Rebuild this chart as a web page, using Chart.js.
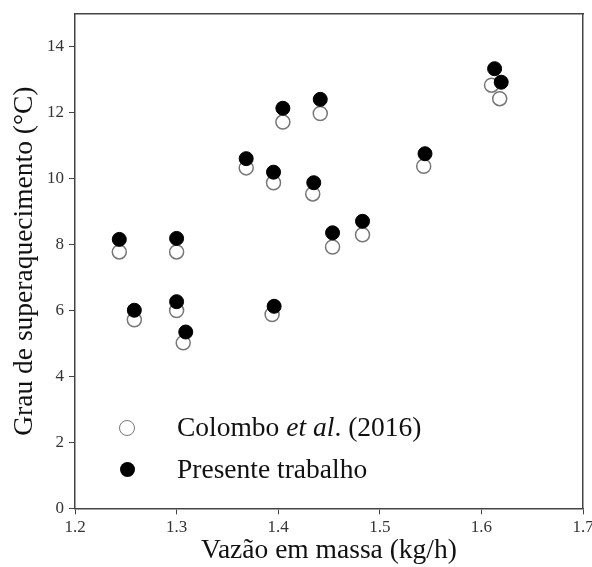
<!DOCTYPE html>
<html><head><meta charset="utf-8">
<script src="https://cdn.jsdelivr.net/npm/chart.js@4.4.1/dist/chart.umd.min.js"></script>
<style>
html,body{margin:0;padding:0;background:#fff}
#wrap{position:relative;width:592px;height:567px;overflow:hidden}
canvas{position:absolute;left:0;top:0}
.lg{position:absolute;left:177px;font-family:"Liberation Serif","Times New Roman",serif;font-size:27.5px;color:#111;line-height:32px;white-space:nowrap}
.mk{position:absolute;box-sizing:border-box;border-radius:50%}
</style>
</head><body>
<div id="wrap">
<canvas id="c" width="592" height="567"></canvas>
<div class="mk" style="left:119px;top:420px;width:16px;height:16px;border:1.5px solid #777;background:#fff"></div>
<div class="lg" style="top:411px">Colombo <i>et al</i>. (2016)</div>
<div class="mk" style="left:119.5px;top:462px;width:15px;height:15px;background:#000"></div>
<div class="lg" style="top:453px">Presente trabalho</div>
</div>
<script>
const seriesNames = ["Colombo et al. (2016)", "Presente trabalho"];
const colomboX = [1.2436,1.300,1.3685,1.3954,1.4046,1.4414,1.434,1.4535,1.483,1.5432,1.610,1.618,1.2584,1.300,1.3065,1.394];
const colomboY = [7.78,7.78,10.33,9.88,11.72,11.98,9.54,7.93,8.30,10.38,12.84,12.43,5.72,6.00,5.02,5.88];
const presenteX = [1.2436,1.300,1.3685,1.3954,1.4046,1.4414,1.435,1.4535,1.483,1.5445,1.613,1.6195,1.2584,1.300,1.309,1.396];
const presenteY = [8.16,8.19,10.61,10.20,12.14,12.41,9.88,8.36,8.71,10.76,13.34,12.93,6.01,6.27,5.35,6.13];
const xTicks = [1.2,1.3,1.4,1.5,1.6,1.7];
const yTicks = [0,2,4,6,8,10,12,14];

const toPts = (xs, ys) => xs.map((x, i) => ({x: x, y: ys[i]}));
const serif = "'Liberation Serif','Times New Roman',serif";
const frame = '#444';

new Chart(document.getElementById('c'), {
  type: 'scatter',
  data: {
    datasets: [
      {label: seriesNames[1], data: toPts(presenteX, presenteY), pointRadius: 7, pointHoverRadius: 7,
       pointBackgroundColor: '#000', pointBorderColor: '#000', pointBorderWidth: 1},
      {label: seriesNames[0], data: toPts(colomboX, colomboY), pointRadius: 7, pointHoverRadius: 7,
       pointBackgroundColor: '#fff', pointBorderColor: '#777', pointBorderWidth: 1.5}
    ]
  },
  options: {
    responsive: false, animation: false, devicePixelRatio: 1,
    layout: {padding: {top: 14, right: 9, left: 0, bottom: 0}},
    plugins: {legend: {display: false}, tooltip: {enabled: false}},
    scales: {
      x: {
        type: 'linear', position: 'bottom', min: 1.2, max: 1.7,
        afterBuildTicks: s => { s.ticks = xTicks.map(v => ({value: v})); },
        afterFit: s => { s.height = 58.7; s.paddingLeft = 0; s.paddingRight = 0; },
        ticks: {callback: v => v.toFixed(1), font: {family: serif, size: 17}, color: '#333', padding: 3, maxRotation: 0},
        grid: {display: true, drawOnChartArea: false, tickLength: 6, color: frame, lineWidth: 1},
        border: {display: true, color: frame, width: 1.5},
        title: {display: true, text: 'Vazão em massa (kg/h)', font: {family: serif, size: 27.5}, color: '#111', padding: 0}
      },
      y: {
        type: 'linear', position: 'left', min: 0, max: 15,
        afterBuildTicks: s => { s.ticks = yTicks.map(v => ({value: v})); },
        afterFit: s => { s.width = 75; s.paddingTop = 0; s.paddingBottom = 0; },
        ticks: {font: {family: serif, size: 17}, color: '#333', padding: 5},
        grid: {display: true, drawOnChartArea: false, tickLength: 6, color: frame, lineWidth: 1},
        border: {display: true, color: frame, width: 1.5},
        title: {display: true, text: 'Grau de superaquecimento (°C)', font: {family: serif, size: 27.5}, color: '#111', padding: {top: 8, bottom: 0}}
      },
      x2: {
        type: 'linear', position: 'top', min: 1.2, max: 1.7,
        afterFit: s => { s.height = 0; s.paddingLeft = 0; s.paddingRight = 0; },
        ticks: {display: false}, grid: {display: false},
        border: {display: true, color: frame, width: 1.5}
      },
      y2: {
        type: 'linear', position: 'right', min: 0, max: 15,
        afterFit: s => { s.width = 0; s.paddingTop = 0; s.paddingBottom = 0; },
        ticks: {display: false}, grid: {display: false},
        border: {display: true, color: frame, width: 1.5}
      }
    }
  }
});
</script>
</body></html>
